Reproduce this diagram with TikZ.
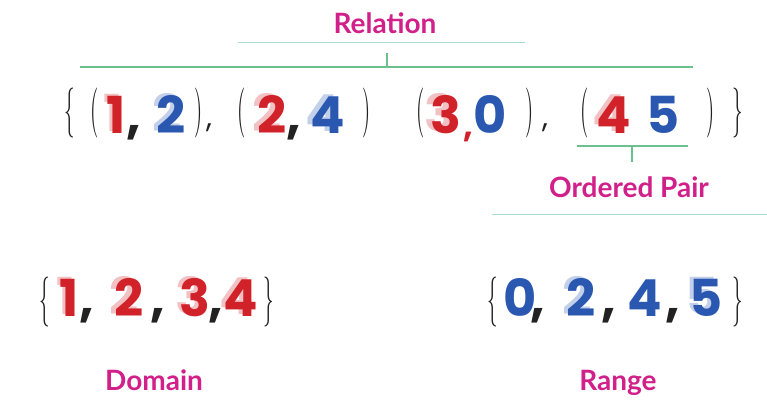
\documentclass[tikz,border=0pt]{standalone}
\usepackage{fontspec}
\usepackage{graphicx}
\newfontfamily\labelfont{Lato}
\newfontfamily\digitfont{Poppins}
\definecolor{mag}{HTML}{D1208A}
\definecolor{numred}{HTML}{D12229}
\definecolor{numblue}{HTML}{2A58B0}
\definecolor{brgreen}{HTML}{6CC08E}
\definecolor{tealline}{HTML}{A8DCD2}
\definecolor{ink}{HTML}{222222}
\newcommand{\tallde}[1]{\scalebox{2.1}[5]{\fontsize{10}{10}\selectfont#1}}
\begin{document}
\begin{tikzpicture}[x=1pt,y=-1pt,
  lbl/.style={text=mag, font=\labelfont\bfseries\fontsize{28}{28}\selectfont, inner sep=0pt, anchor=base},
  dg/.style={font=\digitfont\bfseries\fontsize{51}{51}\selectfont, inner sep=0pt, anchor=base},
  rd/.style={dg, text=numred},
  bl/.style={dg, text=numblue},
  grd/.style={dg, text=numred!28},
  gbl/.style={dg, text=numblue!28},
  commamark/.style={dg, text=ink},
  dl/.style={inner sep=0pt, text=ink},
  greenline/.style={draw=brgreen, line width=1.2pt},
  tealrule/.style={draw=tealline, line width=1pt}
]
\useasboundingbox[fill=white] (0,0) rectangle (767,402);

% ---- Relation label and brackets
\node[lbl] (rel) at (385,33) {Relation};
\coordinate (t1a) at (238,42); \coordinate (t1b) at (525,42);
\draw[tealrule] (t1a) -- (t1b);
\coordinate (g1a) at (80,67); \coordinate (g1b) at (693,67);
\coordinate (g1t) at (387,53); \coordinate (g1m) at (387,67);
\draw[greenline] (g1a) -- (g1b);
\draw[greenline] (g1t) -- (g1m);

% ---- Main relation row
\node[dl] (lb) at (70,113) {\tallde\{};
\node[dl] (p1l) at (95,113) {\tallde(};
\node[grd] (g11) at (113,131) {1};
\node[rd] (n11) at (116,133) {1};
\node[commamark] (c11) at (134,133) {,};
\node[gbl] (g12) at (167,131) {2};
\node[bl] (n12) at (171,133) {2};
\node[dl] (p1r) at (199,113) {\tallde)};
\node[commamark, font=\digitfont\fontsize{30}{30}\selectfont] (c1) at (209,127) {,};

\node[dl] (p2l) at (242,113) {\tallde(};
\node[grd] (g21) at (267,131) {2};
\node[rd] (n21) at (272,133) {2};
\node[commamark] (c21) at (294,133) {,};
\node[gbl] (g22) at (323,131) {4};
\node[bl] (n22) at (328,133) {4};
\node[dl] (p2r) at (367,113) {\tallde)};

\node[dl] (p3l) at (421,113) {\tallde(};
\node[grd] (g31) at (440,131) {3};
\node[rd] (n31) at (446,133) {3};
\node[commamark, text=numred, font=\digitfont\bfseries\fontsize{34}{34}\selectfont] (c31) at (468,137) {,};
\node[bl] (n32) at (490,133) {0};
\node[dl] (p3r) at (530,113) {\tallde)};
\node[commamark, font=\digitfont\fontsize{30}{30}\selectfont] (c3) at (545,127) {,};

\node[dl] (p4l) at (585,113) {\tallde(};
\node[grd] (g41) at (610,131) {4};
\node[rd] (n41) at (614,133) {4};
\node[bl] (n42) at (663,133) {5};
\node[dl] (p4r) at (711,113) {\tallde)};
\node[dl] (rb) at (738,113) {\tallde\}};

% ---- Ordered pair bracket
\coordinate (g2a) at (577,146); \coordinate (g2b) at (688,146);
\coordinate (g2m) at (632,146); \coordinate (g2t) at (632,162);
\draw[greenline] (g2a) -- (g2b);
\draw[greenline] (g2m) -- (g2t);
\node[lbl] (op) at (629,197) {Ordered Pair};
\coordinate (t2a) at (492,214); \coordinate (t2b) at (767,214);
\draw[tealrule] (t2a) -- (t2b);

% ---- Domain set
\node[dl] (dlb) at (45,302) {\tallde\{};
\node[grd] (gd1) at (66,314) {1};
\node[rd] (d1) at (69,316) {1};
\node[commamark] (dc1) at (87,316) {,};
\node[grd] (gd2) at (124,314) {2};
\node[rd] (d2) at (129,316) {2};
\node[commamark] (dc2) at (158,316) {,};
\node[grd] (gd3) at (191,314) {3};
\node[rd] (d3) at (195,316) {3};
\node[commamark] (dc3) at (216,316) {,};
\node[grd] (gd4) at (237,314) {4};
\node[rd] (d4) at (241,316) {4};
\node[dl] (drb) at (269,302) {\tallde\}};
\node[lbl] (dom) at (154,390) {Domain};

% ---- Range set
\node[dl] (rlb) at (493,302) {\tallde\{};
\node[bl] (r1) at (520,316) {0};
\node[commamark] (rc1) at (538,316) {,};
\node[gbl] (gr2) at (577,314) {2};
\node[bl] (r2) at (581,316) {2};
\node[commamark] (rc2) at (609,316) {,};
\node[bl] (r3) at (645,316) {4};
\node[commamark] (rc3) at (673,316) {,};
\node[gbl] (gr4) at (702,314) {5};
\node[bl] (r4) at (706,316) {5};
\node[dl] (rrb) at (738,302) {\tallde\}};
\node[lbl] (rng) at (618,390) {Range};
\end{tikzpicture}
\end{document}
